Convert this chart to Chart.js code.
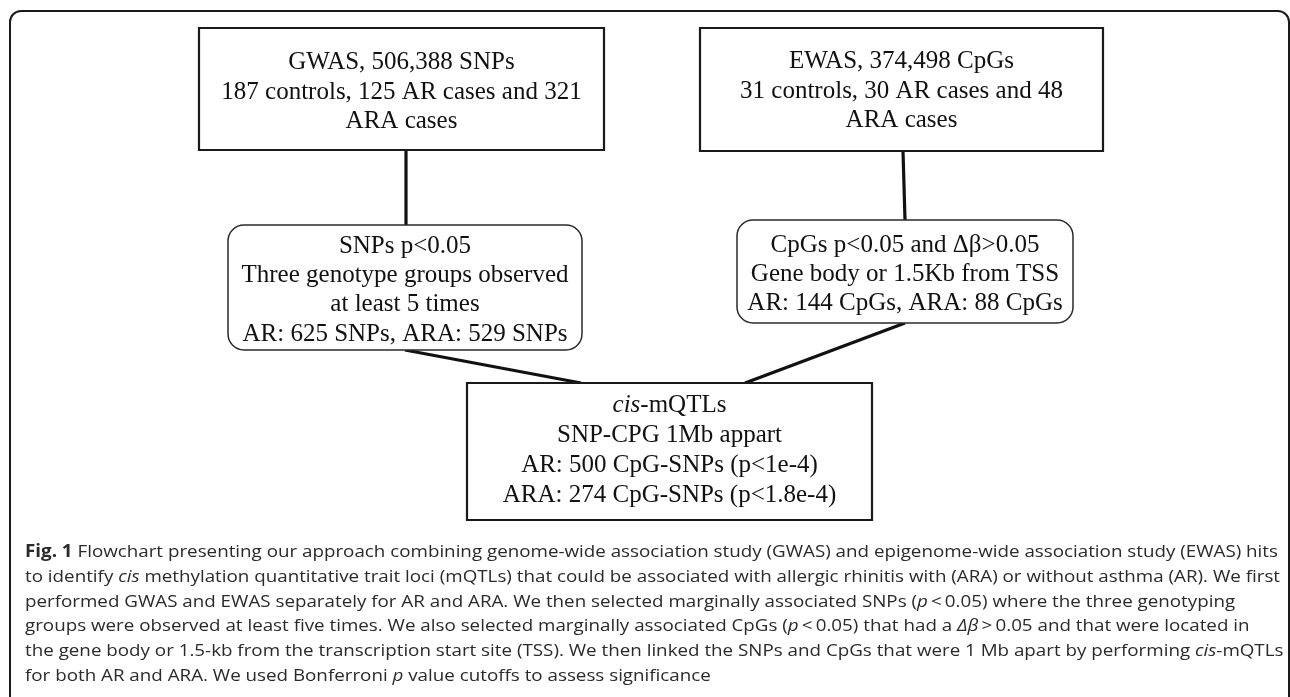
<!DOCTYPE html>
<html>
<head>
<meta charset="utf-8">
<script src="https://cdn.jsdelivr.net/npm/chart.js@4.4.1/dist/chart.umd.min.js"></script>
<style>
  html, body { margin: 0; padding: 0; background: #ffffff; }
  #wrap { position: relative; width: 1290px; height: 697px; }
</style>
</head>
<body>
<div id="wrap"><canvas id="c"></canvas></div>
<script>
// ---- content (text of the flowchart nodes and caption) ----
const gwasLines = ["GWAS, 506,388 SNPs", "187 controls, 125 AR cases and 321", "ARA cases"];
const ewasLines = ["EWAS, 374,498 CpGs", "31 controls, 30 AR cases and 48", "ARA cases"];
const snpLines  = ["SNPs p<0.05", "Three genotype groups observed", "at least 5 times", "AR: 625 SNPs, ARA: 529 SNPs"];
const cpgLines  = ["CpGs p<0.05 and \u0394\u03b2>0.05", "Gene body or 1.5Kb from TSS", "AR: 144 CpGs, ARA: 88 CpGs"];
const mqtlLines = ["_cis_-mQTLs", "SNP-CPG 1Mb appart", "AR: 500 CpG-SNPs (p<1e-4)", "ARA: 274 CpG-SNPs (p<1.8e-4)"];
const captionLines = [
  "**Fig. 1** Flowchart presenting our approach combining genome-wide association study (GWAS) and epigenome-wide association study (EWAS) hits",
  "to identify _cis_ methylation quantitative trait loci (mQTLs) that could be associated with allergic rhinitis with (ARA) or without asthma (AR). We first",
  "performed GWAS and EWAS separately for AR and ARA. We then selected marginally associated SNPs (_p_\u2009<\u20090.05) where the three genotyping",
  "groups were observed at least five times. We also selected marginally associated CpGs (_p_\u2009<\u20090.05) that had a _\u0394\u03b2_\u2009>\u20090.05 and that were located in",
  "the gene body or 1.5-kb from the transcription start site (TSS). We then linked the SNPs and CpGs that were 1 Mb apart by performing _cis_-mQTLs",
  "for both AR and ARA. We used Bonferroni _p_ value cutoffs to assess significance"
];

// ---- layout (page units, mapped through the chart's scales) ----
const nodeIds = ["gwas", "ewas", "snp", "cpg", "mqtl"];
const nodeText = { gwas: gwasLines, ewas: ewasLines, snp: snpLines, cpg: cpgLines, mqtl: mqtlLines };
const layout = {
  gwas: { x0: 199, y0: 28,  x1: 604, y1: 150, r: 0,  base: 69,  lh: 29.5 },
  ewas: { x0: 700, y0: 28,  x1: 1103, y1: 151, r: 0, base: 68,  lh: 29.5 },
  snp:  { x0: 228, y0: 225, x1: 582, y1: 350, r: 16, base: 253, lh: 29.2 },
  cpg:  { x0: 737, y0: 220, x1: 1073, y1: 323, r: 16, base: 252, lh: 29.2 },
  mqtl: { x0: 467, y0: 383, x1: 872, y1: 520, r: 0,  base: 412, lh: 30 }
};
// connectors: [from node, x at from-bottom, to node, x at to-top]
const links = [["gwas", 406, "snp", 406], ["ewas", 903, "cpg", 905], ["snp", 405, "mqtl", 581], ["cpg", 905, "mqtl", 745]];

const linkDatasets = links.map(([a, ax, b, bx]) => ({
  data: [{ x: ax, y: layout[a].y1 }, { x: bx, y: layout[b].y0 }],
  showLine: true, borderColor: "#111", borderWidth: 3.2, pointRadius: 0, borderCapStyle: "butt"
}));

function parseRich(s) {
  const segs = []; let bold = false, ital = false, cur = "";
  for (let i = 0; i < s.length; i++) {
    if (s[i] === "*" && s[i + 1] === "*") { if (cur) segs.push({ t: cur, b: bold, i: ital }); cur = ""; bold = !bold; i++; continue; }
    if (s[i] === "_") { if (cur) segs.push({ t: cur, b: bold, i: ital }); cur = ""; ital = !ital; continue; }
    cur += s[i];
  }
  if (cur) segs.push({ t: cur, b: bold, i: ital });
  return segs;
}
function fontFor(seg, size, fam) { return (seg.i ? "italic " : "") + (seg.b ? "bold " : "") + size + "px " + fam; }
function richWidth(ctx, segs, size, fam) { let w = 0; segs.forEach(s => { ctx.font = fontFor(s, size, fam); w += ctx.measureText(s.t).width; }); return w; }
function drawRich(ctx, segs, x, y, size, fam) { segs.forEach(s => { ctx.font = fontFor(s, size, fam); ctx.fillText(s.t, x, y); x += ctx.measureText(s.t).width; }); }

function rrect(ctx, x0, y0, x1, y1, r) {
  ctx.beginPath();
  ctx.moveTo(x0 + r, y0); ctx.lineTo(x1 - r, y0); ctx.arcTo(x1, y0, x1, y0 + r, r);
  ctx.lineTo(x1, y1 - r); ctx.arcTo(x1, y1, x1 - r, y1, r);
  ctx.lineTo(x0 + r, y1); ctx.arcTo(x0, y1, x0, y1 - r, r);
  ctx.lineTo(x0, y0 + r); ctx.arcTo(x0, y0, x0 + r, y0, r);
  ctx.closePath();
}

const flowPlugin = {
  id: "flow",
  beforeDatasetsDraw(chart) {
    const ctx = chart.ctx, xs = chart.scales.x, ys = chart.scales.y;
    const X = v => xs.getPixelForValue(v), Y = v => ys.getPixelForValue(v);
    ctx.save();
    // outer frame
    ctx.strokeStyle = "#1a1a1a"; ctx.lineWidth = 2;
    ctx.beginPath();
    ctx.moveTo(X(10), Y(720)); ctx.lineTo(X(10), Y(22)); ctx.arcTo(X(10), Y(11), X(21), Y(11), 11);
    ctx.lineTo(X(1278), Y(11)); ctx.arcTo(X(1289), Y(11), X(1289), Y(22), 11); ctx.lineTo(X(1289), Y(720));
    ctx.stroke();
    ctx.restore();
  },
  afterDatasetsDraw(chart) {
    const ctx = chart.ctx, xs = chart.scales.x, ys = chart.scales.y;
    const X = v => xs.getPixelForValue(v), Y = v => ys.getPixelForValue(v);
    ctx.save();
    nodeIds.forEach(id => {
      const L = layout[id];
      ctx.fillStyle = "#fff";
      if (L.r) { rrect(ctx, X(L.x0), Y(L.y0), X(L.x1), Y(L.y1), L.r); ctx.lineWidth = 1.5; ctx.strokeStyle = "#2a2a2a"; }
      else { ctx.beginPath(); ctx.rect(X(L.x0), Y(L.y0), X(L.x1) - X(L.x0), Y(L.y1) - Y(L.y0)); ctx.lineWidth = 2.2; ctx.strokeStyle = "#1a1a1a"; }
      ctx.fill(); ctx.stroke();
      ctx.fillStyle = "#111"; ctx.textBaseline = "alphabetic"; ctx.textAlign = "left";
      const cx = (X(L.x0) + X(L.x1)) / 2;
      nodeText[id].forEach((line, k) => {
        const segs = parseRich(line);
        const fam = "'Liberation Serif', 'Times New Roman', serif";
        const w = richWidth(ctx, segs, 25, fam);
        drawRich(ctx, segs, cx - w / 2, Y(L.base + k * L.lh), 25, fam);
      });
    });
    // caption
    const fam = "'Open Sans', sans-serif", size = 17;
    const segs0 = parseRich(captionLines[0]);
    const sx = 1253 / richWidth(ctx, segs0, size, fam);
    ctx.fillStyle = "#2a2a2a";
    captionLines.forEach((line, k) => {
      ctx.save();
      ctx.translate(X(25), Y(557 + k * 24.8));
      ctx.scale(sx, 1);
      drawRich(ctx, parseRich(line), 0, 0, size, fam);
      ctx.restore();
    });
    ctx.restore();
  }
};

new Chart(document.getElementById("c"), {
  type: "scatter",
  data: { datasets: linkDatasets },
  options: {
    responsive: true, maintainAspectRatio: false, animation: false,
    layout: { padding: 0 },
    plugins: { legend: { display: false }, tooltip: { enabled: false } },
    scales: {
      x: { type: "linear", min: 0, max: 1290, display: false },
      y: { type: "linear", min: 0, max: 697, reverse: true, display: false }
    }
  },
  plugins: [flowPlugin]
});
</script>
</body>
</html>
